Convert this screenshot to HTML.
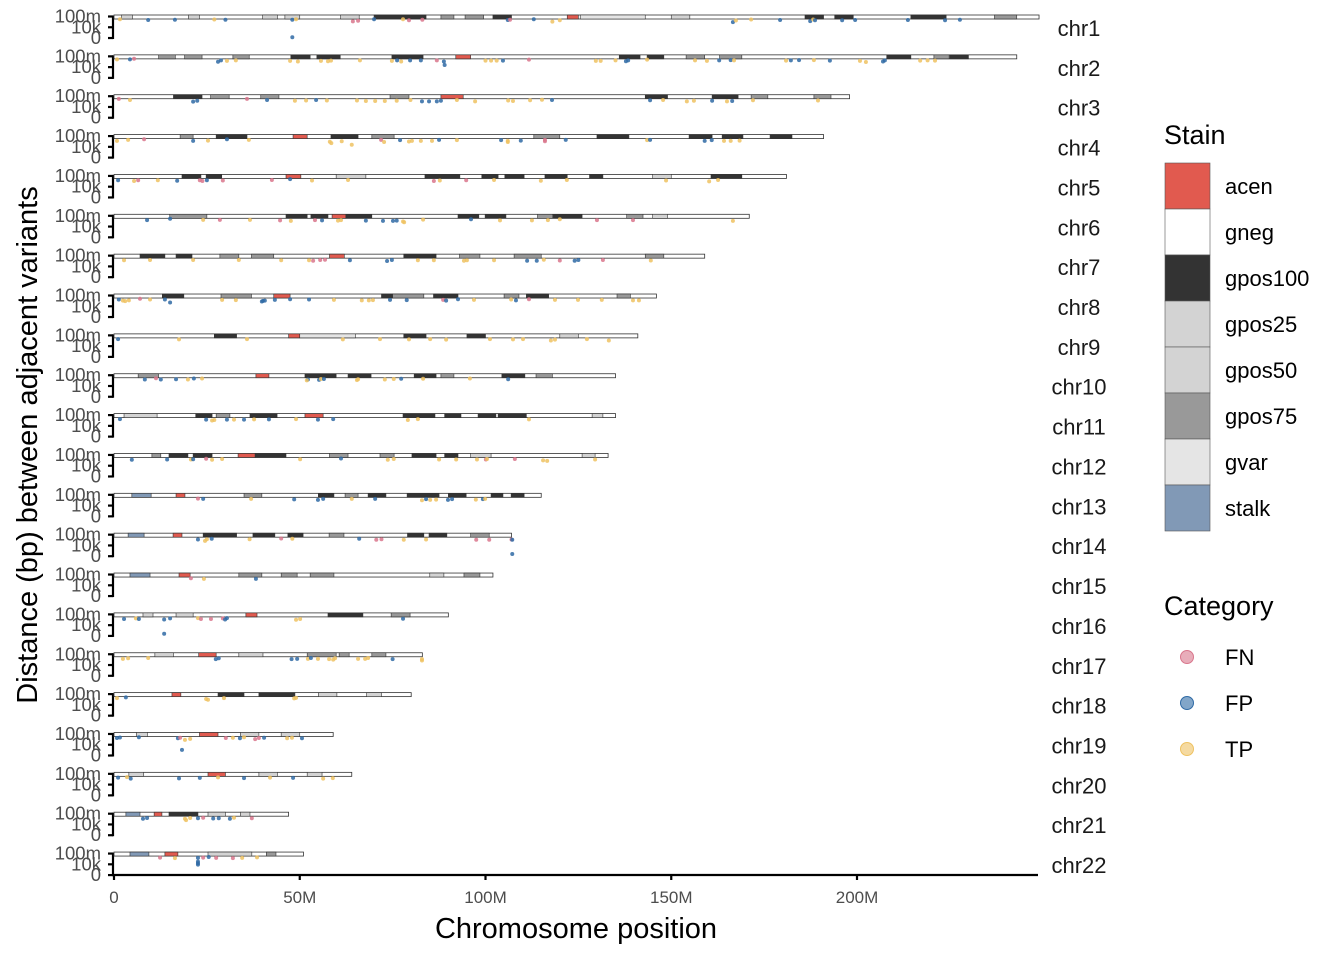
<!DOCTYPE html>
<html><head><meta charset="utf-8"><style>
body{margin:0;background:#fff;}
svg{display:block;font-family:"Liberation Sans",sans-serif;}
</style></head><body>
<svg id="chart" width="1344" height="960" viewBox="0 0 1344 960" xmlns="http://www.w3.org/2000/svg">
<g id="panels"></g>
<g id="xaxis"></g>
<text x="576" y="938" font-size="29" text-anchor="middle" fill="#000">Chromosome position</text>
<text transform="translate(37,445) rotate(-90)" font-size="29" text-anchor="middle" fill="#000">Distance (bp) between adjacent variants</text>
<g id="legend"></g>
</svg>
<script>
const chroms=["chr1","chr2","chr3","chr4","chr5","chr6","chr7","chr8","chr9","chr10","chr11","chr12","chr13","chr14","chr15","chr16","chr17","chr18","chr19","chr20","chr21","chr22"];
const lengths=[249,243,198,191,181,171,159,146,141,135,135,133,115,107,102,90,83,80,59,64,47,51];
const xTicks=[0,50,100,150,200];
const xTickLabels=["0","50M","100M","150M","200M"];
const yTicks=[8,4,0];
const yTickLabels=["100m","10k","0"];
const bands=[
"2-5-g 20-23-g 40-44-g 46-50-g 61-66-g 70-84-d 88-91.5-m 94.5-99.5-m 102-107-d 122-125-a 125.5-143-v 150-155-g 186-191-d 194-199-d 214.5-224-d 237-243-m",
"12-16.5-m 19-23.7-m 32-36.4-m 47.6-52.8-d 54.6-60.9-d 74.8-83.2-d 92-96-a 136-141.6-d 143.5-148-d 154-159-m 163-169-m 208-214.5-d 220.7-224.8-m 225-230-d",
"16-23.7-d 26-31-m 39.5-44.4-m 74.3-79.4-m 88-94-a 143-149-d 161-168-d 171.5-176-m 188.4-193-m",
"17.8-21.3-m 27.5-35.8-d 48.2-52-a 58.4-65.7-d 69.4-75.4-m 113-120-m 130-138.6-d 154.8-161-d 163.7-169.3-d 176.6-182.5-d",
"18.3-23.4-d 24.8-29-d 46.3-50.3-a 59.8-67.8-g 83.7-93.1-d 99-103.4-d 105.2-110.4-d 116-122-d 128-131.6-d 145-150-g 160.7-169-d",
"15-25-m 46.3-52-d 53-57.6-d 58.7-62.4-a 62.4-69.4-d 92.6-98.2-d 99.9-105.5-d 114-118-m 118.2-126-d 138-142.4-m 145-149-g",
"7-13.7-d 16.7-21-d 28.5-33.6-m 37-43-m 58-62-a 78-86.7-d 93-98.5-m 107.7-115-m 143-148-m",
"13-18.8-d 28.8-37-m 43-47.4-a 72-75-d 75-83.4-m 86-92.6-d 105-109-m 111-117-d 135.4-139-m",
"27-33-d 47-50-a 50-65-v 78-84-d 95-100-d 120-125-g",
"6.5-12-m 38.2-41.7-a 51.4-59.8-d 63-69.2-d 80.8-86.7-d 88-91.5-m 104.4-110.6-d 113.6-118-m",
"2.7-11.6-g 22-26.4-d 27.5-31.2-m 36.6-43.9-d 51.4-56.3-a 77.8-86.4-d 89-93.4-d 98-102.8-d 103.4-111-d 128.7-131.6-g",
"10.2-12.6-m 14.8-19.9-d 21.3-26.4-d 33.4-38-a 38-46.3-d 58-63-m 71.6-75.4-m 80.2-86.7-d 89-92.6-d 96-101.5-g 126-129.5-g",
"4.8-10-s 16.7-19.1-a 35-39.8-m 55-59.2-d 62.2-65.7-m 68.4-73.2-d 78.9-87.5-d 90-94.8-d 101.5-104.7-d 106.9-110.4-d",
"3.8-8.1-s 15.9-18.3-a 24-33-d 37.4-43.3-d 46.8-50.9-d 57.9-61.9-m 79-83.4-d 84.8-89.6-d 96-101-m",
"4.3-9.7-s 17.5-20.5-a 33.6-39.8-m 45-49.3-m 52.8-59.2-m 85-88.8-g 94.2-98.5-m",
"7.8-10.5-g 16.7-21.3-g 35.5-38.5-a 57.6-67-d 74.6-79.7-m",
"11-16-g 22.8-27.5-a 33.6-40.1-g 52-59.8-m 60.6-63.3-m 69.4-73.2-m",
"15.6-18-a 28-35-d 39-48.7-d 55-60-g 68-72-g",
"6-9-g 23-28-a 34-39-g 45-50-g",
"4-8-g 25.3-30-a 39-44-g 52-56-g",
"3.2-7-s 10.8-12.9-a 14.8-22.6-d 25.3-30-g 34-36.6-g",
"4.3-9.4-s 13.7-17.2-a 25.3-37.1-g 41-43.6-m"
];
const points=[
"1.6:7:TP 9.2:6.7:FP 16.4:6.8:FP 27:6.9:TP 30:6.8:FP 48:0.3:FP 48:6.8:FP 49:7:TP 64.3:6.2:FN 65.7:6.4:FN 70:7:FP 77.8:7:TP 79.4:6.6:FN 83:6.8:FN 106:6.7:FP 106.6:6.8:FN 113:7:FP 118:6.1:TP 120:6.6:TP 166.6:5.9:FP 167.4:6.5:TP 171.5:6.9:TP 179.3:6.7:FP 187.4:6.3:FP 188.2:6.9:TP 188.7:6.6:FP 196:6.6:FP 199.5:6.7:FP 213.7:6.7:FP 223.7:6.6:FP 227.7:6.8:FP",
"0.8:6.9:TP 4.3:6.9:FP 5.4:7.1:FN 28:6:FP 28.8:6.5:FP 30.4:6.3:TP 32.8:6.5:TP 47.4:6.3:TP 49.5:6.1:TP 55.7:6.3:TP 57.6:6.2:TP 58.4:6.4:TP 66.2:6.5:TP 74.8:6.3:TP 76.2:6.5:FP 77.3:6.1:TP 79.7:6.5:FP 82.6:6.5:FP 86.9:6.5:FN 88.8:6.1:FP 89:4.8:FP 100:6.4:TP 101.5:6.4:TP 103:6.4:TP 104.7:6.4:FP 111.7:6.8:FN 129.7:6.3:TP 131:6.3:TP 135:6.5:TP 137.8:6.2:FP 138.4:6.5:FP 143.5:6.8:TP 156.4:6.5:TP 159.6:6.3:TP 162.9:6.5:FP 166:6.6:FP 166.9:6.5:TP 180.9:6.4:TP 182.2:6.5:FP 184.4:6.6:FP 188.4:6.6:TP 192.7:6.4:FP 200.8:6.3:TP 202.4:5.9:TP 207:6.1:FP 207.5:6.5:FP 217:6.4:TP 219:6.5:TP 221:6.4:TP",
"1.3:7:FN 4.3:6.6:TP 21.3:6:FP 22.4:6.3:FP 35.8:7:FN 41.2:6.6:FP 48.7:6.3:TP 51.7:6.4:TP 54.4:6.6:FP 57.3:6.4:TP 65.4:6.4:TP 67.8:6.2:TP 70.3:6.2:TP 72.9:6.2:TP 76.1:6.3:TP 79.8:6.6:TP 82.9:6.1:FP 84.8:6.1:FP 86.9:6.1:FP 88:6.3:FP 92.3:6.6:TP 97.2:6.1:TP 106.1:6.4:TP 107.4:6.2:TP 112:6.5:TP 115.2:6.7:TP 117.9:6.6:FP 144.3:6.5:FP 147.8:6.6:TP 154.2:6.1:TP 156.1:6.3:TP 161:6.3:FP 165:6.1:TP 166.4:6.2:FP 172:6.5:TP 189.5:6.4:TP",
"0.8:6.2:TP 3.8:6.6:TP 8.1:6.8:FN 21.3:6.2:FP 25.3:6.3:TP 30.4:6.8:FP 36.3:6.6:TP 58.1:5.9:TP 58.5:5.4:TP 61.3:6.1:TP 64:4.8:TP 71.9:6.6:FN 72.7:5.8:TP 77:6.5:FP 79.4:6:TP 80.2:6.2:TP 82.6:6.2:TP 85.6:6.2:TP 87.5:6.6:FP 92.3:6.5:TP 104.2:6.5:FP 106:6.2:TP 106:5.8:TP 109.5:6.3:FP 116:6.6:FN 116:6.1:FN 121.6:6.6:FP 143.5:6.5:TP 144.3:6.6:FP 159:6.2:FP 160.9:6.5:FP 164.2:6.2:TP 166:6.2:TP 168.4:6.3:TP",
"1.1:6.4:FP 5.4:6.1:TP 6.5:6.4:FN 11.8:6.4:TP 17:6.2:FP 23.1:6.4:FN 23.8:6.1:FN 25:6.4:FP 29.3:6.3:FN 42.5:6.5:FN 47.4:6.8:FP 53.3:6.3:TP 63:6.5:TP 86.1:6.1:FN 87.7:6.3:TP 94.8:6.4:FN 102.3:6.5:TP 114.9:6.2:TP 121.9:6.5:TP 148.6:6.3:TP 160.2:6:TP 162.6:6.5:TP",
"8.9:6.4:FP 15.1:6.9:FP 24:6.5:TP 28.5:6.5:FN 36.6:6.5:TP 44.7:6.3:FN 47.6:6.1:TP 54.1:6.4:FN 56:6.3:FP 60.3:6.2:TP 61.1:6.4:TP 67.8:6.2:FP 72.4:6.1:FP 75.1:6.1:FP 76.1:6.2:FP 77.8:5.9:TP 78.1:5.6:TP 83.2:6.6:TP 96.1:6.7:FP 103.9:6.3:TP 112.5:6.3:TP 116.8:6.4:TP 120:6.7:TP 130:6.4:FN 139.7:6.4:FN 166.6:6.1:TP",
"2.7:6.3:TP 9.7:6.4:TP 21.3:6.4:TP 33.6:6.4:TP 45:6.3:TP 52.5:6.3:TP 53.6:6.1:FN 55.5:6.4:FN 56.8:6.5:FN 63.5:6.3:FP 73.5:6:FP 74.8:6.4:FP 81.8:6.3:TP 86.1:6.3:TP 94.2:6.1:TP 95:6.3:TP 102.3:6.3:TP 111.2:6.1:FP 113.8:6.1:FP 115.7:6.5:TP 120:6.2:FN 124:6.1:FP 125:6.4:FP 131.6:6.4:FN 144.5:6.2:TP",
"1.3:6.5:FP 2.4:6.1:TP 3:5.9:TP 4:6.2:TP 7:6.8:FN 9.7:6.5:TP 13.7:6.5:FP 15.1:5.4:FP 29.1:6.4:TP 32.8:6.3:TP 39.8:5.8:FP 40.1:6:FP 40.6:6.1:FP 43.3:6.4:FP 47.4:6.6:FP 52.5:6.5:FP 59.2:6.4:TP 66.7:6.2:TP 68.6:6.2:TP 69.7:6.3:TP 74.3:6.4:FP 78.8:6.3:FP 88.6:6.4:FN 89.4:6.1:FP 92.6:6.6:FP 96.9:6.4:TP 106.9:6.5:TP 108.2:6.2:FP 111.7:6.6:FN 118.7:6.4:TP 124.9:6.4:TP 131.3:6.4:TP 139.7:6.2:TP 141.3:6.2:TP",
"1.1:6.6:FP 17.5:6.5:TP 35.8:6.6:TP 61.6:6.5:TP 71.6:6.6:TP 79.4:6.5:TP 85.1:6.6:TP 89.4:6.4:TP 101.2:6.6:TP 107.4:6.5:TP 110.1:6.6:TP 117.6:6.1:TP 118.7:6.4:TP 127.3:6.6:TP 133.2:6.1:TP",
"8.3:6.4:FP 11.3:6.9:FN 12.6:6.4:FP 16.7:6.5:FP 19.9:6.4:TP 21.5:6.8:FP 23.7:6.8:TP 52.2:6.4:FP 51.9:6.1:TP 55.2:6.3:FP 55.7:6.6:TP 56.5:6.6:FP 65.4:6.2:TP 65.7:6.5:TP 72.9:6.4:TP 75.3:6.6:TP 77.3:6.7:FP 83.2:6.7:TP 95.8:6.8:TP 106.1:6.5:FP",
"1.6:6.5:FP 24.8:6.3:FP 26.4:6:TP 27:6.2:TP 30.4:6.3:FP 32.3:6.3:TP 35:6.3:FP 37.7:6.4:TP 41.7:6.4:FP 49:6.5:TP 54.9:6.3:FP 59:6.5:FP 79.1:6.2:TP 81.8:6.5:TP 111.7:6.4:TP",
"4.8:6.2:FP 14.3:6.3:FP 20.7:6.3:TP 21.3:6.4:FP 24.8:6.6:FN 26.4:6.2:TP 29.1:6.5:TP 50.1:6.4:TP 61.1:6.7:FP 73.7:6.2:TP 75.3:6.5:TP 87.5:6.3:TP 92.1:6.3:TP 97.7:6.3:TP 100.1:6.3:FN 100.4:6.5:TP 107.9:6.5:FN 115.5:6:TP 116.6:5.8:TP 129.5:6.3:TP",
"22.6:6.6:FN 24:6.5:FP 36.9:6.5:TP 48.5:6.3:FP 54.9:6.1:FP 56.3:6.5:FP 64:6.5:TP 70.3:6.5:FP 82.9:6:TP 84:6.4:FP 85.1:6.1:TP 86.7:6.2:TP 89.9:6.1:FP 91:6.4:FP 97.4:6.2:TP 99.3:6.4:FP 99.9:6.5:TP",
"22.6:6.2:FP 24.5:5.7:TP 25:6.3:TP 26.3:6.5:FP 36.5:6.3:TP 45:6.6:FN 48:6.5:TP 66:6.5:FP 70.6:6.1:FN 72:6.3:FN 78:6.1:TP 84:6.2:TP 97.5:6.1:FN 101:6.1:FN 107:6.2:FN 107.2:6.1:FP 107.2:0.8:FP",
"20.7:6.6:FN 24.2:6.4:TP 38.2:6.4:FP",
"2.7:6.3:FP 5.9:6.5:TP 6.7:6.3:FP 13.5:6.1:FP 13.5:0.8:FP 15.1:6.5:FP 22.6:6.6:TP 23.4:6.3:FN 26.1:6.3:FN 29.3:6.5:FN 29.9:6.1:FP 30.4:6.6:FP 49:6:TP 50.1:6.3:TP 77.8:6.4:FP",
"2.4:6.3:TP 3.8:6.5:TP 9.2:6.6:TP 27.4:6.2:FP 28.2:6.5:FP 47.8:6.2:FP 49.3:6.3:FP 52.2:6.3:TP 53:6.6:FP 54.9:6.3:TP 57.9:6.2:TP 59:6.0:TP 59.5:6.5:TP 65.7:6.3:TP 67.6:6.3:TP 68.4:6.6:TP 75:6.2:FP 82.9:6.2:TP 82.9:5.7:TP",
"0.8:6.5:TP 3.2:6.8:FP 24.8:6.2:TP 25.3:5.9:TP 29.6:6.5:TP 48.5:6.4:TP 49:6.6:TP",
"0.8:6.5:FP 1.6:6.7:FP 6.7:6.8:FP 17.2:6.4:FP 17.8:6.6:FN 18.3:2.1:FP 19.1:5.8:TP 20.5:6.2:TP 30.1:6.5:FN 32:6.6:TP 33.9:6.4:FP 35:6.8:TP 38:6.1:FN 39:6.5:FN 40.4:6.6:FP 46.6:6.4:TP 47.9:6.6:TP 50.6:6.4:FP",
"1.1:6.6:FP 3.5:6.8:TP 4.5:6.2:FP 17.5:6.3:FP 23.1:6.5:FP 28:6.7:TP 35:6.4:FP 42:6.6:TP 48.2:6.5:FP 56.3:6.2:TP 58.9:6.4:TP",
"7.8:6.1:FP 8.9:6.4:FP 19.4:5.6:TP 19.1:6.1:TP 20.5:6.4:TP 22.6:6.3:FP 24:6.5:FN 26.7:6.2:FP 28.2:6.3:FP 31.2:6.1:FP 32.3:6.5:TP 37.1:6.3:FN",
"12.4:6.5:FN 16.4:6.3:TP 22.6:6.4:FP 22.6:5:FP 22.6:4.4:FP 22.6:3.9:FP 24:6.5:FN 25.5:6.7:FP 27.5:6.4:FN 32:6.3:FN 34.5:6.4:TP 38.5:6.6:TP"
];
const stainFill={a:"#E15A4F",d:"#333333",g:"#d3d3d3",m:"#999999",v:"#e5e5e5",s:"#8199B6"};
const catFill={FN:"#d9768c",FP:"#2f6aa5",TP:"#eec262"};
const NS="http://www.w3.org/2000/svg";
function xS(m){return 114+m*3.715;}
function panelTop(i){return 15+i*39.86;}
function yS(i,v){return panelTop(i)+1.5+(8-v)*2.69;}
function mk(tag,attrs,parent){const e=document.createElementNS(NS,tag);for(const k in attrs)e.setAttribute(k,attrs[k]);parent.appendChild(e);return e;}
const panels=document.getElementById("panels");
chroms.forEach((c,i)=>{
  const g=mk("g",{},panels);
  
  
  const t=panelTop(i);
  const ax=mk("line",{x1:113,x2:113,y1:yS(i,8)-1,y2:yS(i,0)+1,stroke:"#000","stroke-width":2.2},g);
  
  
  yTicks.forEach((v,k)=>{
    const y=yS(i,v);
    mk("line",{x1:108,x2:113,y1:y,y2:y,stroke:"#000","stroke-width":2.2},g);
    const tx=mk("text",{x:101,y:y+6,"font-size":18.5,"text-anchor":"end",fill:"#4d4d4d"},g);
    tx.textContent=yTickLabels[k];
    
    
  });
  const base=mk("rect",{x:xS(0),y:t,width:xS(lengths[i])-xS(0),height:4,fill:"#fff",stroke:"#333","stroke-width":0.8},g);
  
  
  bands[i].split(" ").forEach(b=>{
    const p=b.split("-");const s=+p[0],e=+p[1];
    const r=mk("rect",{x:xS(s),y:t,width:xS(e)-xS(s),height:4,fill:stainFill[p[2]],stroke:"#333","stroke-width":0.6},g);
    
    
  });
  points[i].split(" ").forEach(pt=>{
    const p=pt.split(":");
    const ci=mk("circle",{cx:xS(+p[0]),cy:yS(i,+p[1]),r:2,fill:catFill[p[2]],"fill-opacity":0.85},g);
    
    
  });
  const lab=mk("text",{x:1079,y:t+21,"font-size":22,"text-anchor":"middle",fill:"#1a1a1a"},g);
  lab.textContent=c;
  
  
});
const xa=document.getElementById("xaxis");
mk("line",{x1:112,x2:1038,y1:875,y2:875,stroke:"#000","stroke-width":2.2},xa);
xTicks.forEach((v,k)=>{
  mk("line",{x1:xS(v),x2:xS(v),y1:875,y2:880,stroke:"#000","stroke-width":2.2},xa);
  const tx=mk("text",{x:xS(v),y:903,"font-size":17,"text-anchor":"middle",fill:"#4d4d4d"},xa);
  tx.textContent=xTickLabels[k];
  
  
});
const lg=document.getElementById("legend");
const st=mk("text",{x:1164,y:144,"font-size":27,fill:"#000"},lg);st.textContent="Stain";


const stainNames=["acen","gneg","gpos100","gpos25","gpos50","gpos75","gvar","stalk"];
const stainCols=["#E15A4F","#ffffff","#333333","#d3d3d3","#d3d3d3","#999999","#e5e5e5","#8199B6"];
stainNames.forEach((n,k)=>{
  const y=163+k*46;
  const r=mk("rect",{x:1165,y:y,width:45,height:46,fill:stainCols[k],stroke:"#555","stroke-width":0.6},lg);
  
  
  const t=mk("text",{x:1225,y:y+31,"font-size":22,fill:"#000"},lg);t.textContent=n;
  
  
});
const ct=mk("text",{x:1164,y:615,"font-size":27,fill:"#000"},lg);ct.textContent="Category";


["FN","FP","TP"].forEach((n,k)=>{
  const y=657+k*46;
  const c=mk("circle",{cx:1187,cy:y,r:6.5,fill:catFill[n],"fill-opacity":0.6,stroke:catFill[n],"stroke-width":1},lg);
  
  
  const t=mk("text",{x:1225,y:y+8,"font-size":22,fill:"#000"},lg);t.textContent=n;
  
  
});
</script>
</body></html>
